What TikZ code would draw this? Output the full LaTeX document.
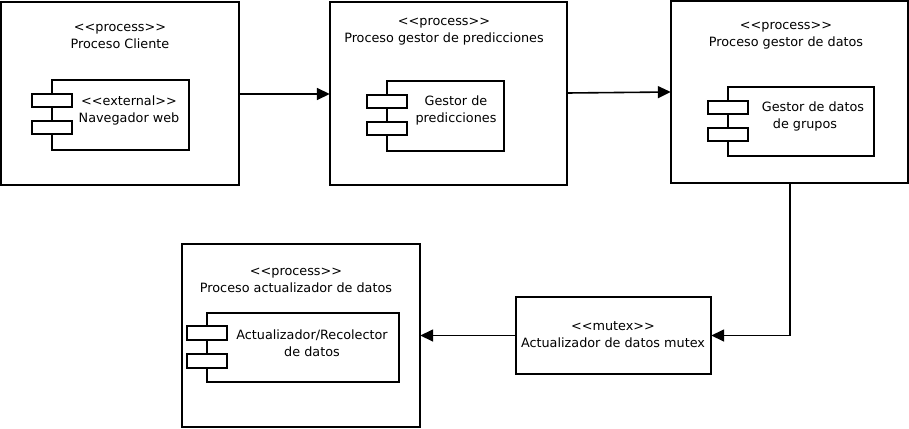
\documentclass[tikz,border=0pt]{standalone}
\usepackage{fontspec}
\setmainfont{DejaVu Sans}
\usetikzlibrary{arrows.meta}
\newcommand{\lt}{<{}<}
\newcommand{\gtt}{>{}>}
\begin{document}
\begin{tikzpicture}[x=1pt,y=-1pt,
  box/.style={draw, line width=1.8pt, fill=white},
  lbl/.style={align=center, inner sep=0pt, font=\fontsize{12.8}{17}\selectfont},
  conn/.style={line width=1.6pt, -{Triangle[length=13pt,width=12pt]}}]
\useasboundingbox (0,0) rectangle (909,428);
\fill[white] (0,0) rectangle (909,428);
% process boxes
\draw[box] (1,2) rectangle (239,185);
\draw[box] (330,2) rectangle (567,185);
\draw[box] (671,1) rectangle (908,183);
\draw[box] (182,244) rectangle (420,427);
\draw[box] (516,297) rectangle (711,374);
% named anchors for connectors
\node[inner sep=0pt, minimum width=238pt, minimum height=183pt] (cli) at (120,93.5) {};
\node[inner sep=0pt, minimum width=237pt, minimum height=183pt] (pred) at (448.5,93.5) {};
\node[inner sep=0pt, minimum width=237pt, minimum height=182pt] (dat) at (789.5,92) {};
\node[inner sep=0pt, minimum width=238pt, minimum height=183pt] (act) at (301,335.5) {};
\node[inner sep=0pt, minimum width=195pt, minimum height=77pt] (mut) at (613.5,335.5) {};
% titles
\node[lbl] (t1) at (120,36) {\lt process\gtt\\Proceso Cliente};
\node[lbl] (t2) at (444,32) {\lt process\gtt\\Proceso gestor de predicciones};
\node[lbl] (t3) at (786,36) {\lt process\gtt\\Proceso gestor de datos};
\node[lbl] (t4) at (296,280) {\lt process\gtt\\Proceso actualizador de datos};
\node[lbl] (t5) at (613,335) {\lt mutex\gtt\\Actualizador de datos mutex};
% components
\draw[box] (52,80) rectangle (189,150);
\draw[box] (32,94) rectangle (72,107);
\draw[box] (32,121) rectangle (72,134);
\node[lbl] (c1) at (129,110) {\lt external\gtt\\Navegador web};
\draw[box] (387,81) rectangle (504,151);
\draw[box] (367,95) rectangle (407,108);
\draw[box] (367,122) rectangle (407,135);
\node[lbl] (c2) at (456,110) {Gestor de\\predicciones};
\draw[box] (728,87) rectangle (874,156);
\draw[box] (708,101) rectangle (748,114);
\draw[box] (708,128) rectangle (748,141);
\node[lbl, align=left] (c3) at (813,116) {Gestor de datos\\\hspace{11pt}de grupos};
\draw[box] (207,313) rectangle (399,382);
\draw[box] (187,326) rectangle (227,340);
\draw[box] (187,354) rectangle (227,368);
\node[lbl] (c4) at (312,343) {Actualizador/Recolector\\de datos};
% connectors
\draw[conn] (cli.east |- 0,94) -- (pred.west |- 0,94);
\draw[conn] (pred.east |- 0,93) -- (dat.west |- 0,92);
\draw[conn] (dat.south -| 790,0) |- (mut.east);
\draw[conn] (mut.west) -- (act.east |- mut.west);
\end{tikzpicture}
\end{document}
